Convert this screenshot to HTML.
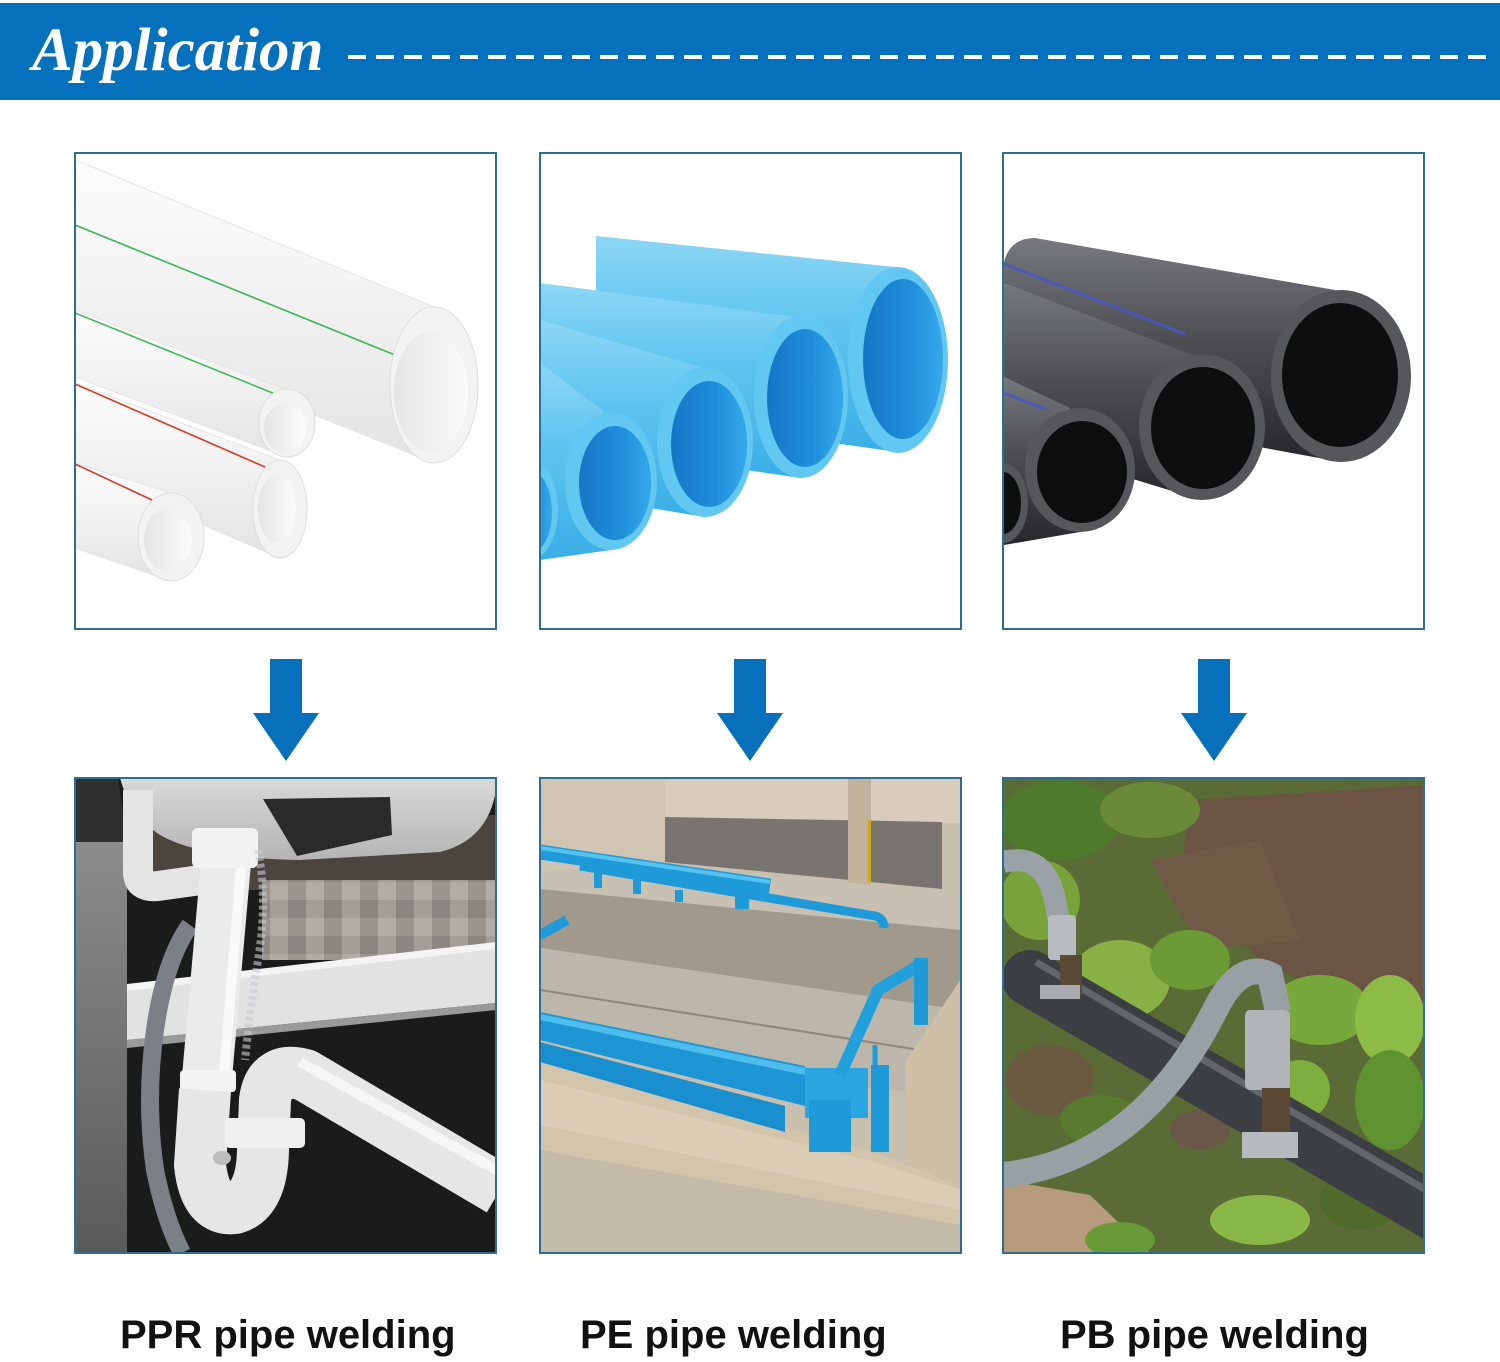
<!DOCTYPE html>
<html><head><meta charset="utf-8"><style>
html,body{margin:0;padding:0;background:#fff;}
svg{display:block;}
</style></head><body>
<svg width="1500" height="1362" viewBox="0 0 1500 1362" xmlns="http://www.w3.org/2000/svg">
<defs>
<clipPath id="c1"><rect x="75" y="153" width="421" height="476"/></clipPath>
<clipPath id="c2"><rect x="540" y="153" width="421" height="476"/></clipPath>
<clipPath id="c3"><rect x="1003" y="153" width="421" height="476"/></clipPath>
<clipPath id="c4"><rect x="75" y="778" width="421" height="475"/></clipPath>
<clipPath id="c5"><rect x="540" y="778" width="421" height="475"/></clipPath>
<clipPath id="c6"><rect x="1003" y="778" width="421" height="475"/></clipPath>
<linearGradient id="gw" x1="0" y1="0" x2="0" y2="1"><stop offset="0" stop-color="#fdfdfd"/><stop offset="0.5" stop-color="#f1f1f1"/><stop offset="1" stop-color="#e3e3e3"/></linearGradient>
<linearGradient id="gwi" x1="0" y1="0" x2="1" y2="0"><stop offset="0" stop-color="#e4e4e4"/><stop offset="1" stop-color="#fbfbfb"/></linearGradient>
<linearGradient id="gb" x1="0" y1="0" x2="0" y2="1"><stop offset="0" stop-color="#8dd7f6"/><stop offset="0.45" stop-color="#5cc3ef"/><stop offset="1" stop-color="#3aaee5"/></linearGradient>
<linearGradient id="gbi" x1="0" y1="0" x2="1" y2="0"><stop offset="0" stop-color="#1577c6"/><stop offset="0.6" stop-color="#1f8fdc"/><stop offset="1" stop-color="#37a9ea"/></linearGradient>
<linearGradient id="gk" x1="0" y1="0" x2="0" y2="1"><stop offset="0" stop-color="#76797e"/><stop offset="0.45" stop-color="#4d4f53"/><stop offset="1" stop-color="#26272a"/></linearGradient>
<linearGradient id="gwall" x1="0" y1="0" x2="0" y2="1"><stop offset="0" stop-color="#8c8c8c"/><stop offset="1" stop-color="#5a5a5a"/></linearGradient>
<linearGradient id="gbasin" x1="0" y1="0" x2="0" y2="1"><stop offset="0" stop-color="#d9d9d9"/><stop offset="1" stop-color="#b4b4b4"/></linearGradient>
<linearGradient id="gpipe" x1="0" y1="0" x2="1" y2="0"><stop offset="0" stop-color="#d6d6d6"/><stop offset="0.5" stop-color="#f7f7f7"/><stop offset="1" stop-color="#dcdcdc"/></linearGradient>
<pattern id="tiles" x="0" y="0" width="36" height="36" patternUnits="userSpaceOnUse">
<rect width="36" height="36" fill="#9a968f"/>
<rect x="0" y="0" width="18" height="18" fill="#8a8681"/>
<rect x="18" y="18" width="18" height="18" fill="#b1ada6"/>
<rect x="18" y="0" width="18" height="18" fill="#a39f98"/>
</pattern>
</defs>

<rect x="0" y="0" width="1500" height="1362" fill="#ffffff"/>

<!-- Header -->
<rect x="0" y="3" width="1500" height="97" fill="#0570bb"/>
<text x="32" y="70" font-family="'Liberation Serif', serif" font-style="italic" font-weight="bold" font-size="61" fill="#ffffff">Application</text>
<line x1="348" y1="57" x2="1496" y2="57" stroke="#ffffff" stroke-width="4" stroke-dasharray="18 10"/>

<!-- Photo 1: white PPR pipes -->
<g clip-path="url(#c1)">
<rect x="75" y="153" width="421" height="476" fill="#ffffff"/>
<path d="M75,160 L434,307 L434,463 L75,319 Z" fill="url(#gw)" stroke="#e4e4e4"/>
<line x1="75" y1="225" x2="395" y2="355" stroke="#3cb45a" stroke-width="1.6"/>
<ellipse cx="434" cy="385" rx="44" ry="78" fill="#f3f3f3" stroke="#dedede"/>
<ellipse cx="431" cy="392" rx="37" ry="60" fill="url(#gwi)"/>
<path d="M75,310 L287,390 L287,457 L75,377 Z" fill="url(#gw)" stroke="#e4e4e4"/>
<line x1="75" y1="313" x2="280" y2="396" stroke="#3cb45a" stroke-width="1.5"/>
<ellipse cx="287" cy="423" rx="28" ry="34" fill="#f3f3f3" stroke="#dedede"/>
<ellipse cx="285" cy="428" rx="21" ry="25" fill="url(#gwi)"/>
<path d="M75,383 L280,460 L280,558 L75,470 Z" fill="url(#gw)" stroke="#e4e4e4"/>
<line x1="75" y1="384" x2="265" y2="467" stroke="#d83a2a" stroke-width="1.6"/>
<ellipse cx="280" cy="509" rx="27" ry="49" fill="#f3f3f3" stroke="#dedede"/>
<ellipse cx="277" cy="509" rx="19" ry="34" fill="url(#gwi)"/>
<path d="M75,463 L171,493 L171,581 L75,548 Z" fill="url(#gw)" stroke="#e4e4e4"/>
<line x1="75" y1="464" x2="152" y2="500" stroke="#d83a2a" stroke-width="1.6"/>
<ellipse cx="171" cy="537" rx="33" ry="44" fill="#f3f3f3" stroke="#dedede"/>
<ellipse cx="168" cy="540" rx="24" ry="32" fill="url(#gwi)"/>
</g>

<!-- Photo 2: blue PE pipes -->
<g clip-path="url(#c2)">
<rect x="540" y="153" width="421" height="476" fill="#ffffff"/>
<path d="M596,236 L895,267 L898,452 L596,410 Z" fill="url(#gb)"/>
<ellipse cx="898" cy="360" rx="50" ry="93" fill="#62c8f2"/>
<ellipse cx="903" cy="359" rx="40" ry="80" fill="url(#gbi)"/>
<path d="M540,283 L795,317 L801,478 L540,440 Z" fill="url(#gb)"/>
<ellipse cx="801" cy="397" rx="47" ry="81" fill="#62c8f2"/>
<ellipse cx="805" cy="398" rx="38" ry="69" fill="url(#gbi)"/>
<path d="M540,320 L700,367 L705,517 L540,490 Z" fill="url(#gb)"/>
<ellipse cx="705" cy="442" rx="48" ry="75" fill="#62c8f2"/>
<ellipse cx="709" cy="444" rx="38" ry="63" fill="url(#gbi)"/>
<path d="M540,363 L605,412 L611,550 L540,560 Z" fill="url(#gb)"/>
<ellipse cx="611" cy="481" rx="46" ry="69" fill="#62c8f2"/>
<ellipse cx="615" cy="483" rx="36" ry="57" fill="url(#gbi)"/>
<ellipse cx="530" cy="510" rx="28" ry="50" fill="#62c8f2"/>
<ellipse cx="532" cy="512" rx="20" ry="40" fill="url(#gbi)"/>
</g>

<!-- Photo 3: black PB pipes -->
<g clip-path="url(#c3)">
<rect x="1003" y="153" width="421" height="476" fill="#ffffff"/>
<path d="M1004,262 Q1010,238 1035,238 L1335,290 L1341,462 L1004,400 Z" fill="url(#gk)"/>
<line x1="1004" y1="264" x2="1185" y2="334" stroke="#4a55c8" stroke-width="3" opacity="0.85"/>
<ellipse cx="1341" cy="376" rx="70" ry="86" fill="#55575b"/>
<ellipse cx="1340" cy="375" rx="58" ry="72" fill="#0e0e10"/>
<path d="M1004,283 L1190,354 L1202,500 L1004,440 Z" fill="url(#gk)"/>
<ellipse cx="1202" cy="427" rx="63" ry="73" fill="#55575b"/>
<ellipse cx="1203" cy="428" rx="52" ry="61" fill="#0e0e10"/>
<path d="M1004,377 L1070,408 L1080,532 L1004,545 Z" fill="url(#gk)"/>
<line x1="1004" y1="393" x2="1045" y2="409" stroke="#4a55c8" stroke-width="3" opacity="0.85"/>
<ellipse cx="1080" cy="470" rx="55" ry="62" fill="#55575b"/>
<ellipse cx="1082" cy="472" rx="45" ry="51" fill="#0e0e10"/>
<ellipse cx="1003" cy="503" rx="25" ry="40" fill="#55575b"/>
<ellipse cx="1003" cy="503" rx="18" ry="31" fill="#0e0e10"/>
</g>

<!-- Photo 4: sink -->
<g clip-path="url(#c4)">
<rect x="75" y="778" width="421" height="475" fill="#1b1b1b"/>
<rect x="115" y="815" width="381" height="75" fill="#4b4540"/>
<rect x="262" y="880" width="234" height="80" fill="url(#tiles)"/>
<polygon points="127,990 496,948 496,1003 127,1040" fill="#e2e2e2"/>
<polygon points="127,984 496,942 496,949 127,991" fill="#f4f4f4"/>
<polygon points="127,1040 496,1003 496,1010 127,1048" fill="#9a9a9a"/>
<polygon points="75,840 127,840 127,1253 75,1253" fill="url(#gwall)"/>
<polygon points="75,778 118,778 127,842 75,842" fill="#2f2f2f"/>
<path d="M115,778 L496,778 L496,790 Q488,840 440,852 L300,860 Q200,858 160,835 Q130,815 120,778 Z" fill="url(#gbasin)"/>
<polygon points="263,799 390,797 392,835 297,856" fill="#2a2a2a"/>
<path d="M138,790 L138,872 Q138,888 158,886 L215,878" stroke="#e4e4e4" stroke-width="30" fill="none"/>
<path d="M190,925 Q165,960 155,1030 Q145,1100 155,1170 Q165,1220 182,1253" stroke="#7b8086" stroke-width="18" fill="none"/>
<path d="M228,840 L205,1100" stroke="#ebebeb" stroke-width="50" fill="none"/>
<path d="M243,840 L222,1100" stroke="#ffffff" stroke-width="10" fill="none" opacity="0.7"/>
<rect x="192" y="828" width="66" height="40" rx="6" fill="#f2f2f2"/>
<rect x="180" y="1070" width="56" height="22" rx="4" fill="#f4f4f4"/>
<path d="M205,1090 L200,1165 Q205,1212 235,1208 Q262,1200 263,1150 L265,1100 Q270,1065 305,1075 L500,1190" stroke="#e6e6e6" stroke-width="52" fill="none" stroke-linejoin="round"/>
<path d="M300,1062 L500,1172" stroke="#fafafa" stroke-width="10" fill="none" opacity="0.8"/>
<rect x="225" y="1118" width="80" height="30" rx="5" fill="#f0f0f0"/>
<ellipse cx="222" cy="1158" rx="9" ry="7" fill="#bdbdbd"/>
<path d="M258,850 Q268,900 258,960 Q250,1010 245,1060" stroke="#c8ccd0" stroke-width="8" fill="none" opacity="0.6" stroke-dasharray="4 3"/>
</g>

<!-- Photo 5: concrete with blue pipes -->
<g clip-path="url(#c5)">
<rect x="540" y="778" width="421" height="475" fill="#c9bfae"/>
<rect x="540" y="778" width="421" height="45" fill="#d8cdbd"/>
<polygon points="540,778 665,778 665,862 540,880" fill="#d0c4b2"/>
<polygon points="665,817 942,822 942,889 665,862" fill="#7a7470"/>
<rect x="848" y="778" width="23" height="112" fill="#c2b49c"/>
<rect x="868" y="820" width="3" height="62" fill="#d0a820"/>
<polygon points="540,872 665,862 961,895 961,945 540,889" fill="#c8c0b2"/>
<polygon points="540,889 961,930 961,1010 540,948" fill="#a19a8c"/>
<polygon points="540,948 961,1010 961,1100 540,1040" fill="#bdb6aa"/>
<line x1="540" y1="990" x2="920" y2="1050" stroke="#8e8678" stroke-width="2"/>
<polygon points="540,1060 868,1150 961,1185 961,1253 540,1253" fill="#d3c4ac"/>
<polygon points="540,1080 868,1160 961,1190 961,1210 540,1125" fill="#dccdb6"/>
<polygon points="540,1150 961,1225 961,1253 540,1253" fill="#c4baa8"/>
<polygon points="905,1062 961,979 961,1190 905,1160" fill="#cdbfa8"/>
<!-- upper blue pipes -->
<line x1="540" y1="852" x2="770" y2="886" stroke="#1f9ad8" stroke-width="15"/>
<line x1="540" y1="848" x2="770" y2="882" stroke="#56c2ef" stroke-width="4"/>
<path d="M580,866 L875,916 Q884,918 884,928" stroke="#1f9ad8" stroke-width="9" fill="none"/>
<rect x="594" y="866" width="8" height="22" fill="#1f9ad8"/>
<rect x="633" y="872" width="8" height="22" fill="#1f9ad8"/>
<rect x="675" y="890" width="8" height="12" fill="#1f9ad8"/>
<rect x="735" y="895" width="14" height="14" fill="#1f9ad8"/>
<line x1="540" y1="935" x2="567" y2="920" stroke="#1f9ad8" stroke-width="10"/>
<!-- lower pipes -->
<polygon points="540,1012 805,1066 805,1106 540,1040" fill="#1e96d6"/>
<polygon points="540,1014 805,1068 805,1075 540,1020" fill="#4cbdec"/>
<polygon points="540,1042 785,1106 785,1132 540,1062" fill="#1a8fd0"/>
<rect x="805" y="1068" width="63" height="50" fill="#2aa7e2"/>
<rect x="809" y="1100" width="42" height="52" fill="#1f9ad8"/>
<path d="M840,1075 L878,990 L918,966" stroke="#22a0dc" stroke-width="12" fill="none"/>
<line x1="921" y1="958" x2="921" y2="1025" stroke="#1f9ad8" stroke-width="14"/>
<line x1="880" y1="1065" x2="880" y2="1152" stroke="#1f9ad8" stroke-width="18"/>
<line x1="875" y1="1045" x2="875" y2="1065" stroke="#1f9ad8" stroke-width="5"/>
</g>

<!-- Photo 6: garden -->
<g clip-path="url(#c6)">
<rect x="1003" y="778" width="421" height="475" fill="#5b6b35"/>
<polygon points="1190,800 1424,785 1424,1010 1340,1000 1260,960 1180,880" fill="#6b5443"/>
<polygon points="1150,860 1260,840 1300,940 1200,950" fill="#6f5a45"/>
<ellipse cx="1060" cy="820" rx="60" ry="40" fill="#4f7a2c"/>
<ellipse cx="1150" cy="810" rx="50" ry="28" fill="#6a8a3a"/>
<ellipse cx="1040" cy="900" rx="40" ry="40" fill="#7aa23a"/>
<ellipse cx="1120" cy="980" rx="50" ry="40" fill="#88b045"/>
<ellipse cx="1190" cy="960" rx="40" ry="30" fill="#6c9a34"/>
<ellipse cx="1320" cy="1010" rx="50" ry="35" fill="#78a83c"/>
<ellipse cx="1390" cy="1020" rx="35" ry="45" fill="#8dbb48"/>
<ellipse cx="1390" cy="1100" rx="35" ry="50" fill="#5f9230"/>
<ellipse cx="1300" cy="1090" rx="30" ry="30" fill="#7fae40"/>
<ellipse cx="1050" cy="1080" rx="45" ry="35" fill="#6a5a40"/>
<ellipse cx="1100" cy="1120" rx="40" ry="25" fill="#5a7a30"/>
<ellipse cx="1260" cy="1220" rx="50" ry="25" fill="#8ab848"/>
<ellipse cx="1360" cy="1200" rx="40" ry="30" fill="#4f6a2a"/>
<ellipse cx="1200" cy="1130" rx="30" ry="20" fill="#6a5848"/>
<polygon points="1003,1180 1090,1195 1150,1253 1003,1253" fill="#b89a7c"/>
<ellipse cx="1120" cy="1240" rx="35" ry="18" fill="#6a9a38"/>
<line x1="1030" y1="978" x2="1440" y2="1216" stroke="#3b3e42" stroke-width="56" stroke-linecap="round"/>
<line x1="1036" y1="962" x2="1440" y2="1198" stroke="#62666b" stroke-width="7"/>
<path d="M1003,862 Q1045,852 1055,900 L1063,945" stroke="#9aa1a7" stroke-width="22" fill="none"/>
<rect x="1048" y="915" width="28" height="45" rx="4" fill="#b8bcc0"/>
<rect x="1060" y="955" width="22" height="40" fill="#5a4a35"/>
<rect x="1040" y="985" width="40" height="14" fill="#a8acb0"/>
<path d="M1003,1175 C1100,1165 1170,1100 1215,1010 Q1240,960 1270,975 L1278,1012" stroke="#98a0a6" stroke-width="26" fill="none"/>
<rect x="1245" y="1010" width="45" height="80" rx="5" fill="#b0b4b8"/>
<rect x="1262" y="1088" width="28" height="45" fill="#5a4a35"/>
<rect x="1242" y="1132" width="56" height="26" fill="#b6babe"/>
</g>

<!-- Frames -->
<g fill="none" stroke="#2d6e93" stroke-width="2">
<rect x="75" y="153" width="421" height="476"/>
<rect x="540" y="153" width="421" height="476"/>
<rect x="1003" y="153" width="421" height="476"/>
<rect x="75" y="778" width="421" height="475"/>
<rect x="540" y="778" width="421" height="475"/>
<rect x="1003" y="778" width="421" height="475"/>
</g>

<!-- Arrows -->
<g fill="#0670bb">
<polygon points="270,659 302,659 302,713 319,713 286,761 253,713 270,713"/>
<polygon points="734,659 766,659 766,713 783,713 750,761 717,713 734,713"/>
<polygon points="1198,659 1230,659 1230,713 1247,713 1214,761 1181,713 1198,713"/>
</g>

<!-- Labels -->
<g font-family="'Liberation Sans', sans-serif" font-weight="bold" font-size="40" fill="#111111">
<text x="120" y="1348">PPR pipe welding</text>
<text x="580" y="1348">PE pipe welding</text>
<text x="1060" y="1348">PB pipe welding</text>
</g>
</svg>
</body></html>
